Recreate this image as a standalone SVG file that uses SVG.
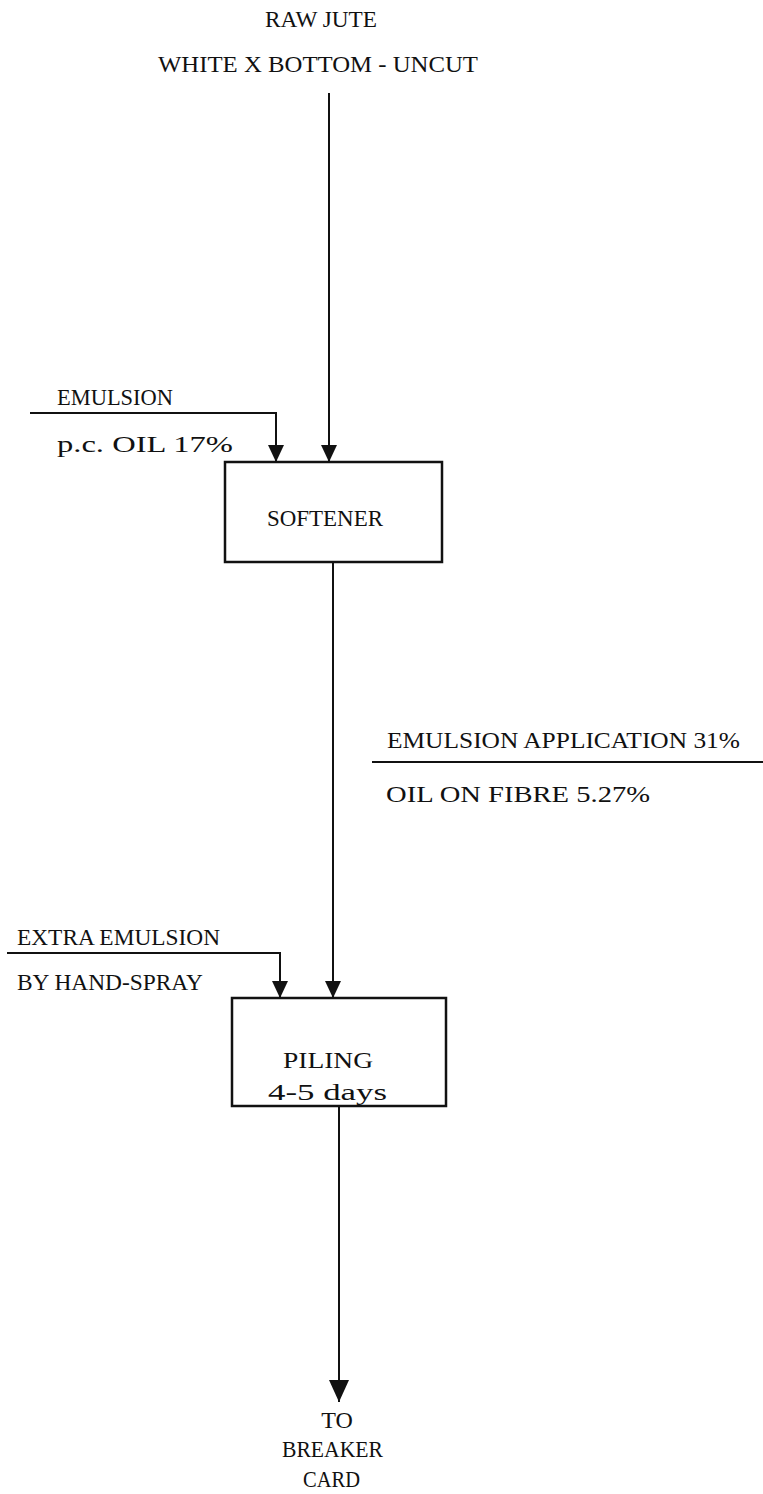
<svg xmlns="http://www.w3.org/2000/svg" width="763" height="1494" viewBox="0 0 763 1494">
<style>
text{font-family:"Liberation Serif","Times New Roman",serif;font-size:24px;fill:#111;}
.ln{stroke:#111;stroke-width:2;fill:none;}
.box{stroke:#111;stroke-width:2.5;fill:#fff;}
</style>
<defs>
<marker id="ah" markerWidth="17" markerHeight="16" refX="17" refY="8" orient="auto" markerUnits="userSpaceOnUse" viewBox="0 0 17 16">
<path d="M0,0 L17,8 L0,16 Z" fill="#111"/>
</marker>
<marker id="ahL" markerWidth="22" markerHeight="20" refX="22" refY="10" orient="auto" markerUnits="userSpaceOnUse" viewBox="0 0 22 20">
<path d="M0,0 L22,10 L0,20 Z" fill="#111"/>
</marker>
</defs>
<rect width="763" height="1494" fill="#fff"/>
<g id="source">
<text x="265" y="27" textLength="112" lengthAdjust="spacingAndGlyphs">RAW JUTE</text>
<text x="158" y="72" textLength="320" lengthAdjust="spacingAndGlyphs">WHITE X BOTTOM - UNCUT</text>
</g>
<g id="emulsion-input">
<text x="57" y="405" textLength="116" lengthAdjust="spacingAndGlyphs">EMULSION</text>
<text x="57" y="452" textLength="176" lengthAdjust="spacingAndGlyphs">p.c. OIL 17%</text>
</g>
<g id="softener">
<rect class="box" x="225" y="462" width="217" height="100"/>
<text x="267" y="526" textLength="116" lengthAdjust="spacingAndGlyphs">SOFTENER</text>
</g>
<g id="application-label">
<text x="387" y="748" textLength="353" lengthAdjust="spacingAndGlyphs">EMULSION APPLICATION 31%</text>
<text x="386" y="802" textLength="264" lengthAdjust="spacingAndGlyphs">OIL ON FIBRE 5.27%</text>
</g>
<g id="extra-emulsion">
<text x="17" y="945" textLength="203" lengthAdjust="spacingAndGlyphs">EXTRA EMULSION</text>
<text x="17" y="990" textLength="186" lengthAdjust="spacingAndGlyphs">BY HAND-SPRAY</text>
</g>
<g id="piling">
<rect class="box" x="232" y="998" width="214" height="108"/>
<text x="283" y="1068" textLength="90" lengthAdjust="spacingAndGlyphs">PILING</text>
<text x="268" y="1100" textLength="119" lengthAdjust="spacingAndGlyphs">4-5 days</text>
</g>
<g id="destination">
<text x="337" y="1428" text-anchor="middle" font-size="20">TO</text>
<text x="282" y="1457" textLength="101" lengthAdjust="spacingAndGlyphs">BREAKER</text>
<text x="303" y="1487" textLength="57" lengthAdjust="spacingAndGlyphs">CARD</text>
</g>
<g id="connectors">
<line class="ln" x1="329" y1="93" x2="329" y2="462" marker-end="url(#ah)"/>
<polyline class="ln" points="30,413 276,413 276,462" marker-end="url(#ah)"/>
<line class="ln" x1="333" y1="562" x2="333" y2="998" marker-end="url(#ah)"/>
<line class="ln" x1="372" y1="762" x2="763" y2="762"/>
<polyline class="ln" points="7,953 280,953 280,998" marker-end="url(#ah)"/>
<line class="ln" x1="339" y1="1106" x2="339" y2="1402" marker-end="url(#ahL)"/>
</g>
</svg>
